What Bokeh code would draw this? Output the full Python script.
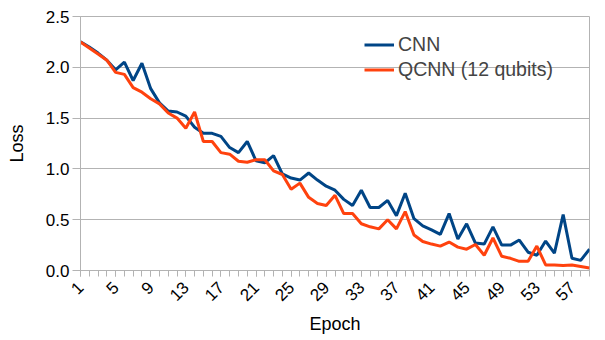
import math
from bokeh.plotting import figure
from bokeh.models import Range1d, FixedTicker, Legend, LegendItem, ColumnDataSource, NumeralTickFormatter
from bokeh.embed import file_html
from bokeh.resources import INLINE

epochs = list(range(1, 60))
cnn = [2.25, 2.20, 2.14, 2.07, 1.975, 2.05, 1.87, 2.04, 1.79, 1.65,
       1.57, 1.56, 1.52, 1.41, 1.35, 1.35, 1.32, 1.21, 1.16, 1.27,
       1.08, 1.06, 1.13, 0.95, 0.91, 0.89, 0.96, 0.89, 0.83, 0.79,
       0.70, 0.64, 0.79, 0.62, 0.62, 0.69, 0.54, 0.76, 0.51, 0.44,
       0.40, 0.355, 0.56, 0.31, 0.46, 0.27, 0.26, 0.43, 0.25, 0.25,
       0.30, 0.18, 0.15, 0.29, 0.17, 0.55, 0.12, 0.10, 0.21]
qcnn = [2.25, 2.19, 2.13, 2.07, 1.95, 1.93, 1.80, 1.755, 1.69, 1.64,
        1.55, 1.50, 1.40, 1.56, 1.27, 1.27, 1.16, 1.145, 1.075, 1.065,
        1.09, 1.09, 0.98, 0.945, 0.80, 0.86, 0.72, 0.66, 0.64, 0.74,
        0.56, 0.56, 0.46, 0.43, 0.41, 0.50, 0.41, 0.58, 0.35, 0.285,
        0.26, 0.24, 0.28, 0.23, 0.21, 0.256, 0.15, 0.32, 0.14, 0.12,
        0.09, 0.09, 0.24, 0.055, 0.055, 0.05, 0.055, 0.04, 0.025]
x_tick_labels = list(range(1, 60, 4))
y_ticks = [0.0, 0.5, 1.0, 1.5, 2.0, 2.5]
series_names = ["CNN", "QCNN (12 qubits)"]

FONT = "Liberation Sans"
GREY = "#b3b3b3"

src = ColumnDataSource(dict(x=epochs, cnn=cnn, qcnn=qcnn))

p = figure(width=597, height=340, output_backend="svg", toolbar_location=None,
           x_range=Range1d(1, 59), y_range=Range1d(0, 2.5),
           min_border_left=80, min_border_right=8, min_border_top=16, min_border_bottom=70)
p.background_fill_color = "white"
p.border_fill_color = "white"
p.outline_line_color = GREY

r1 = p.line("x", "cnn", source=src, line_color="#004586", line_width=3)
r2 = p.line("x", "qcnn", source=src, line_color="#ff420e", line_width=3)

# x axis
xa = p.xaxis[0]
xa.ticker = FixedTicker(ticks=x_tick_labels, minor_ticks=epochs)
xa.axis_line_color = GREY
xa.major_tick_line_color = GREY
xa.minor_tick_line_color = GREY
xa.major_tick_in = 0
xa.major_tick_out = 6
xa.minor_tick_in = 0
xa.minor_tick_out = 6
xa.major_label_orientation = math.pi / 4
xa.major_label_text_font = FONT
xa.major_label_text_font_size = "17px"
xa.major_label_text_color = "black"
xa.major_label_standoff = 8
xa.axis_label = "Epoch"
xa.axis_label_text_font = FONT
xa.axis_label_text_font_size = "18px"
xa.axis_label_text_font_style = "normal"
xa.axis_label_text_color = "black"
xa.axis_label_standoff = 5

# y axis
ya = p.yaxis[0]
ya.ticker = FixedTicker(ticks=y_ticks)
ya.formatter = NumeralTickFormatter(format="0.0")
ya.axis_line_color = GREY
ya.major_tick_line_color = GREY
ya.minor_tick_line_color = None
ya.major_tick_in = 0
ya.major_tick_out = 8
ya.major_label_text_font = FONT
ya.major_label_text_font_size = "17px"
ya.major_label_text_color = "black"
ya.major_label_standoff = 3
ya.axis_label = "Loss"
ya.axis_label_text_font = FONT
ya.axis_label_text_font_size = "18px"
ya.axis_label_text_font_style = "normal"
ya.axis_label_text_color = "black"
ya.axis_label_standoff = 16

p.xgrid.grid_line_color = None
p.ygrid.grid_line_color = GREY
p.ygrid.ticker = FixedTicker(ticks=y_ticks)

legend = Legend(items=[LegendItem(label=series_names[0], renderers=[r1]),
                       LegendItem(label=series_names[1], renderers=[r2])],
                location=(284, 188), padding=0, margin=0, spacing=0,
                glyph_width=30, glyph_height=25, label_height=25, label_standoff=4,
                label_text_font=FONT, label_text_font_size="19.5px",
                background_fill_alpha=0, border_line_color=None)
p.add_layout(legend)

open("out.html", "w").write(file_html(p, INLINE))
